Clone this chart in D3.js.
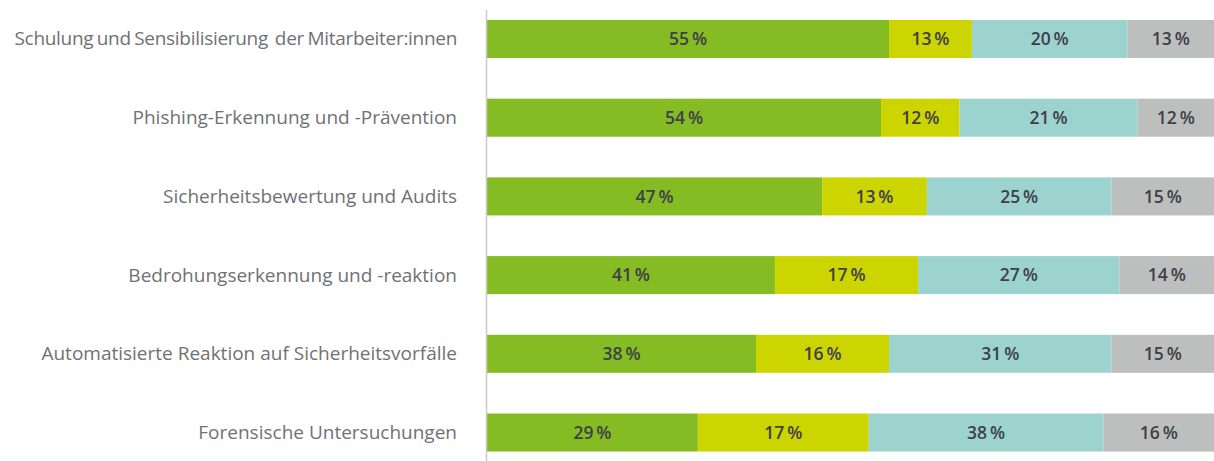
<html>
  <head>
    <meta charset="utf-8" />
    <script src="https://cdnjs.cloudflare.com/ajax/libs/d3/7.6.1/d3.min.js"></script>
    <style>
      body { margin: 0; background: #fff; }
      svg { display: block; }
    </style>
  </head>
  <body>
    <svg width="1214" height="461"></svg>
  </body>
  <script>
    const categories = [
      "Schulung und Sensibilisierung\u00a0 der Mitarbeiter:innen",
      "Phishing-Erkennung und -Prävention",
      "Sicherheitsbewertung und Audits",
      "Bedrohungserkennung und -reaktion",
      "Automatisierte Reaktion auf Sicherheitsvorfälle",
      "Forensische Untersuchungen"
    ];
    const keys = ["green", "yellow", "teal", "grey"];
    const colors = ["#85bb23", "#cdd500", "#9dd3cf", "#bdbebe"];

    // segment lengths as drawn (share of bar, %)
    const green = [55.3, 54.2, 46.1, 39.6, 37.0, 29.0];
    const yellow = [11.4, 10.8, 14.4, 19.7, 18.3, 23.5];
    const teal = [21.4, 24.5, 25.4, 27.7, 30.6, 32.3];
    const grey = [11.9, 10.5, 14.1, 13.0, 14.1, 15.2];

    // printed labels
    const labelGreen = [55, 54, 47, 41, 38, 29];
    const labelYellow = [13, 12, 13, 17, 16, 17];
    const labelTeal = [20, 21, 25, 27, 31, 38];
    const labelGrey = [13, 12, 15, 14, 15, 16];

    const rows = categories.map((c, i) => ({
      cat: c,
      green: green[i], yellow: yellow[i], teal: teal[i], grey: grey[i],
      labels: [labelGreen[i], labelYellow[i], labelTeal[i], labelGrey[i]]
    }));

    const svg = d3.select("svg");
    const W = 1214;

    const xScale = d3.scaleLinear().domain([0, 100]).range([487, 1214]);
    // step ~78.7, band 38
    const yScale = d3.scaleBand()
      .domain(categories)
      .range([0.3, 471.2])
      .paddingInner(0.517)
      .paddingOuter(0.25);

    const series = d3.stack().keys(keys)(rows);

    const groups = svg.selectAll("g.series")
      .data(series)
      .join("g")
      .attr("class", "series")
      .attr("fill", (d, i) => colors[i]);

    groups.selectAll("rect")
      .data((d) => d)
      .join("rect")
      .attr("x", (d) => xScale(d[0]))
      .attr("y", (d) => yScale(d.data.cat))
      .attr("width", (d) => xScale(d[1]) - xScale(d[0]))
      .attr("height", yScale.bandwidth());

    series.forEach((s, k) => {
      svg.append("g")
        .selectAll("text")
        .data(s)
        .join("text")
        .attr("x", (d) => (xScale(d[0]) + Math.min(xScale(d[1]), W)) / 2)
        .attr("y", (d) => yScale(d.data.cat) + yScale.bandwidth() / 2)
        .attr("dy", "0.36em")
        .attr("text-anchor", "middle")
        .attr("font-family", "Open Sans")
        .attr("font-weight", 600)
        .attr("font-size", 17.5)
        .attr("fill", "#3f4048")
        .text((d) => d.data.labels[k] + "\u2009%");
    });

    // category labels
    const yAxis = d3.axisLeft(yScale).tickSize(0).tickPadding(30);
    const yAxisG = svg.append("g")
      .attr("transform", `translate(${xScale(0)},0)`)
      .call(yAxis);
    yAxisG.select(".domain").remove();
    yAxisG.selectAll("text")
      .attr("font-family", "Open Sans")
      .attr("font-size", 19)
      .attr("fill", "#707174")
      .attr("dy", "0.34em")
      // first label is set a little tighter in the original
      .attr("letter-spacing", (d, i) => (i === 0 ? "-0.3px" : null))
      .attr("word-spacing", (d, i) => (i === 0 ? "-1.2px" : null));

    svg.append("line")
      .attr("x1", xScale(0) - 0.5)
      .attr("x2", xScale(0) - 0.5)
      .attr("y1", 10)
      .attr("y2", 461)
      .attr("stroke", "#c9c9c9")
      .attr("stroke-width", 1.5);
  </script>
</html>
